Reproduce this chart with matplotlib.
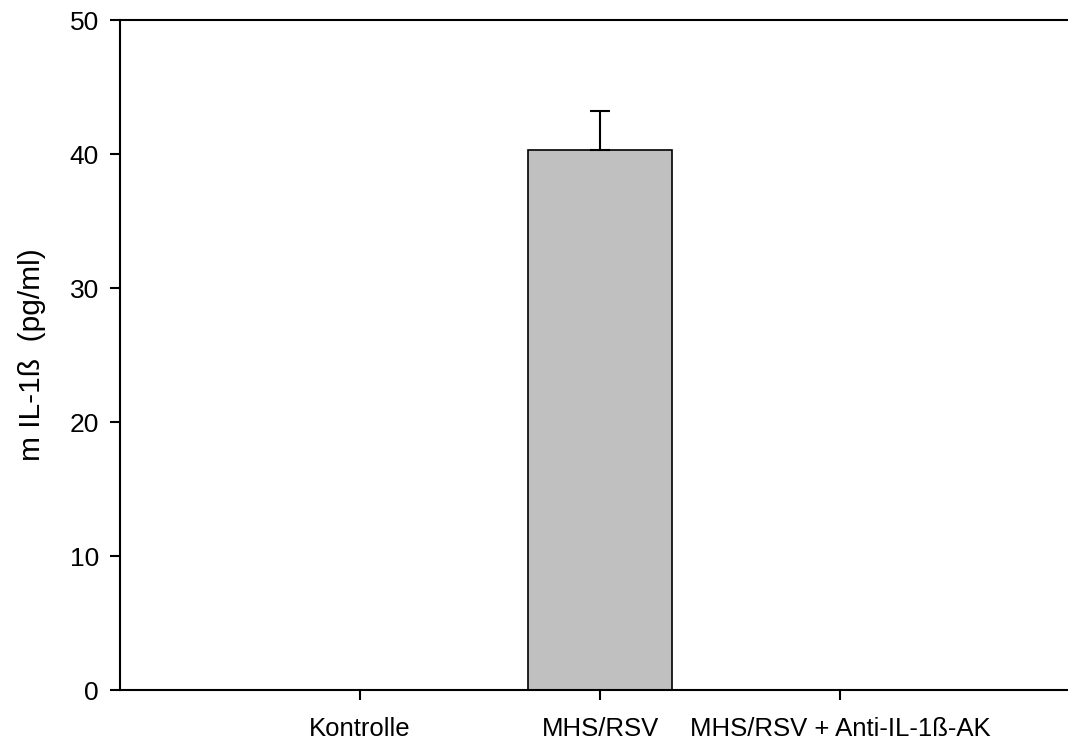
import numpy as np
import matplotlib.pyplot as plt

plt.rcParams['font.family'] = ['Liberation Sans', 'DejaVu Sans']

# IL-1ß Messwerte (pg/ml)
gruppen = ["Kontrolle", "MHS/RSV", "MHS/RSV + Anti-IL-1ß-AK"]
mittelwerte = [0.0, 40.3, 0.0]
fehler = [0.0, 2.9, 0.0]

fig = plt.figure(figsize=(10.68, 7.41), dpi=100)
ax = fig.add_axes([120 / 1068, 51 / 741, 948 / 1068, 670 / 741])

x = np.arange(1, len(gruppen) + 1)
ax.bar(x, mittelwerte, width=0.6, color="#c0c0c0", edgecolor="black", linewidth=1.2, zorder=2)
for xi, m, e in zip(x, mittelwerte, fehler):
    if e > 0:
        ax.errorbar(xi, m, yerr=[[0], [e]], fmt="none", ecolor="black",
                    elinewidth=1.5, capsize=7, capthick=1.5, zorder=3)

ax.set_xlim(0, 948 / 240)
ax.set_ylim(0, 50)
ax.set_yticks([0, 10, 20, 30, 40, 50])
ax.set_xticks(x)
ax.set_xticklabels(gruppen)

ax.spines["right"].set_visible(False)
for s in ["left", "bottom", "top"]:
    ax.spines[s].set_linewidth(1.5)

# Längen in Punkt: 7.2 pt = 10 px bei 100 dpi
ax.tick_params(axis="y", direction="out", length=7.2, width=1.5, labelsize=19, pad=8)
ax.tick_params(axis="x", direction="out", length=7.2, width=1.5, labelsize=18.5, pad=12)
ax.set_ylabel("m IL-1ß  (pg/ml)", fontsize=21.5, labelpad=17)

fig.savefig("out.png", dpi=100)
